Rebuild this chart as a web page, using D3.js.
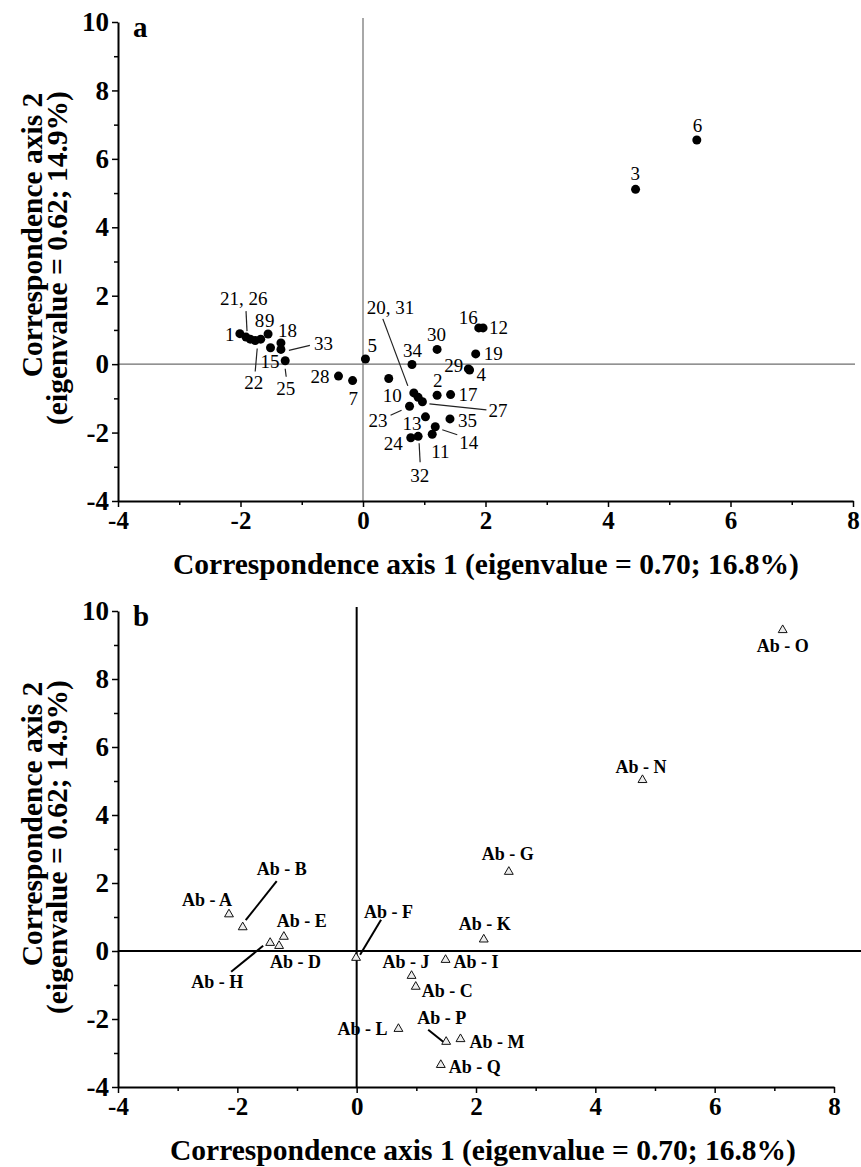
<!DOCTYPE html>
<html>
<head>
<meta charset="utf-8">
<script src="https://cdn.jsdelivr.net/npm/d3@7"></script>
<style>
  html, body { margin: 0; padding: 0; background: #fff; }
  svg { display: block; font-family: "Liberation Serif", "Times New Roman", serif; }
</style>
</head>
<body>
<svg id="chart" width="861" height="1167"></svg>
<script>
// ---- Panel a: sites on the first two correspondence axes ----
const siteIds = [1,2,3,4,5,6,7,8,9,10,11,12,13,14,15,16,17,18,19,20,21,22,23,24,25,26,27,28,29,30,31,32,33,34,35];
const siteAxis1 = [-2.01, 1.21, 4.45, 1.74, 0.04, 5.45, -0.17, -1.67, -1.55, 0.42,
                   1.13, 1.96, 1.02, 1.18, -1.51, 1.89, 1.43, -1.34, 1.84, 0.83,
                   -1.91, -1.76, 0.76, 0.78, -1.27, -1.84, 0.97, -0.40, 1.72, 1.21,
                   0.90, 0.90, -1.34, 0.80, 1.42];
const siteAxis2 = [0.89, -0.91, 5.11, -0.17, 0.15, 6.55, -0.48, 0.73, 0.88, -0.42,
                   -2.05, 1.06, -1.54, -1.83, 0.48, 1.06, -0.89, 0.62, 0.30, -0.84,
                   0.79, 0.69, -1.23, -2.15, 0.10, 0.73, -1.10, -0.35, -0.14, 0.43,
                   -0.97, -2.11, 0.43, -0.01, -1.60];

// ---- Panel b: antibody groups on the same axes ----
const abNames = ["Ab - A","Ab - B","Ab - C","Ab - D","Ab - E","Ab - F","Ab - G","Ab - H","Ab - I",
                 "Ab - J","Ab - K","Ab - L","Ab - M","Ab - N","Ab - O","Ab - P","Ab - Q"];
const abAxis1 = [-2.14, -1.91, 0.99, -1.30, -1.22, -0.01, 2.55, -1.45, 1.49,
                 0.92, 2.13, 0.70, 1.74, 4.79, 7.14, 1.50, 1.41];
const abAxis2 = [1.08, 0.70, -1.05, 0.15, 0.42, -0.20, 2.33, 0.24, -0.26,
                 -0.73, 0.34, -2.29, -2.59, 5.03, 9.44, -2.67, -3.35];

// ---- Axis ticks and titles ----
const xTickValues = [-4, -2, 0, 2, 4, 6, 8];
const yTickValues = [-4, -2, 0, 2, 4, 6, 8, 10];
const xMinorTicks = [-3, -1, 1, 3, 5, 7];
const yMinorTicks = [-3, -1, 1, 3, 5, 7, 9];
const xTitle = "Correspondence axis 1 (eigenvalue = 0.70; 16.8%)";
const yTitleLines = ["Correspondence axis 2", "(eigenvalue = 0.62; 14.9%)"];

// ---- Label placement (pixel offsets from each marker) ----
const siteLabelLayout = {
  1:{dx:-15,dy:7}, 2:{dx:-4,dy:-8}, 3:{dx:-5,dy:-9}, 4:{dx:7,dy:11}, 5:{dx:2,dy:-7},
  6:{dx:-4,dy:-8}, 7:{dx:-4,dy:24}, 8:{dx:-6,dy:-12}, 9:{dx:-3,dy:-7}, 10:{dx:-6,dy:23},
  11:{dx:-1,dy:24}, 12:{dx:6,dy:6}, 13:{dx:-23,dy:13},
  14:{dx:24,dy:22,leader:[7,3,22,8]},
  15:{dx:-10,dy:20}, 16:{dx:-20,dy:-4}, 17:{dx:8,dy:6}, 18:{dx:-3,dy:-6}, 19:{dx:8,dy:6},
  20:{text:"20, 31",dx:-47,dy:-79,leader:[-31,-74,-6,-7]},
  21:{text:"21, 26",dx:-26,dy:-32,leader:[0,-26,1,-6]},
  22:{dx:-11,dy:48,leader:[0,31,2,8]},
  23:{dx:-41,dy:21,leader:[-19,9,-8,4]},
  24:{dx:-27,dy:12},
  25:{dx:-9,dy:34,leader:[0,8,1,16]},
  27:{dx:66,dy:15,leader:[7,2,64,8]},
  28:{dx:-28,dy:7}, 29:{dx:-24,dy:3}, 30:{dx:-10,dy:-8},
  32:{dx:-8,dy:46,leader:[1,7,2,26]},
  33:{dx:33,dy:1,leader:[8,1,29,-4]},
  34:{dx:-9,dy:-7}, 35:{dx:8,dy:8}
};
const abLabelLayout = {
  "Ab - A":{dx:-47,dy:-8},
  "Ab - B":{dx:14,dy:-52,leader:[34,-46,3,-7]},
  "Ab - C":{dx:6,dy:10},
  "Ab - D":{dx:-9,dy:22},
  "Ab - E":{dx:-7,dy:-10},
  "Ab - F":{dx:8,dy:-40,leader:[25,-38,4,-3]},
  "Ab - G":{dx:-27,dy:-12},
  "Ab - H":{dx:-79,dy:45,leader:[-39,29,-7,3]},
  "Ab - I":{dx:8,dy:8},
  "Ab - J":{dx:-29,dy:-8},
  "Ab - K":{dx:-25,dy:-9},
  "Ab - L":{dx:-61,dy:6},
  "Ab - M":{dx:9,dy:9},
  "Ab - N":{dx:-27,dy:-7},
  "Ab - O":{dx:-26,dy:22},
  "Ab - P":{dx:-29,dy:-18,leader:[-18,-12,-3,0]},
  "Ab - Q":{dx:8,dy:8}
};

const svg = d3.select("#chart");

// Draws the axes frame (left + bottom), zero reference lines and titles of one panel.
function drawFrame(g, x, y, opts) {
  const [x0, x1] = x.range();
  const [yb, yt] = y.range();

  // zero reference lines
  g.append("line")
    .attr("x1", x(0)).attr("x2", x(0))
    .attr("y1", yt - 4).attr("y2", yb)
    .attr("stroke", opts.zeroColor).attr("stroke-width", opts.zeroWidth);
  g.append("line")
    .attr("x1", x0).attr("x2", opts.zeroLineEnd)
    .attr("y1", y(0)).attr("y2", y(0))
    .attr("stroke", opts.zeroColor).attr("stroke-width", opts.zeroWidth);

  // minor ticks
  g.append("g").attr("transform", `translate(0,${yb})`)
    .call(d3.axisBottom(x).tickValues(xMinorTicks).tickSize(4).tickSizeOuter(0).tickFormat(""))
    .call(a => a.select(".domain").remove())
    .call(a => a.selectAll("line").attr("stroke", "#000").attr("stroke-width", 1.5));
  g.append("g").attr("transform", `translate(${x0},0)`)
    .call(d3.axisLeft(y).tickValues(yMinorTicks).tickSize(4).tickSizeOuter(0).tickFormat(""))
    .call(a => a.select(".domain").remove())
    .call(a => a.selectAll("line").attr("stroke", "#000").attr("stroke-width", 1.5));

  // major ticks, labels and axis lines
  const xa = g.append("g").attr("transform", `translate(0,${yb})`)
    .call(d3.axisBottom(x).tickValues(xTickValues).tickSize(6).tickSizeOuter(0).tickPadding(4)
      .tickFormat(d3.format("d")));
  xa.select(".domain").attr("stroke", "#000").attr("stroke-width", 2);
  xa.selectAll(".tick line").attr("stroke", "#000").attr("stroke-width", 1.5);
  xa.selectAll(".tick text")
    .attr("font-family", "Liberation Serif").attr("font-weight", "bold")
    .attr("font-size", 25).attr("fill", "#000").attr("dy", "0.72em")
    .text(d => d < 0 ? "-" + Math.abs(d) : d);

  const ya = g.append("g").attr("transform", `translate(${x0},0)`)
    .call(d3.axisLeft(y).tickValues(yTickValues).tickSize(6).tickSizeOuter(0).tickPadding(3)
      .tickFormat(d3.format("d")));
  ya.select(".domain").attr("stroke", "#000").attr("stroke-width", 2);
  ya.selectAll(".tick line").attr("stroke", "#000").attr("stroke-width", 1.5);
  ya.selectAll(".tick text")
    .attr("font-family", "Liberation Serif").attr("font-weight", "bold")
    .attr("font-size", 27).attr("fill", "#000")
    .text(d => d < 0 ? "-" + Math.abs(d) : d);

  // panel letter
  g.append("text")
    .attr("x", 133).attr("y", yt + 15)
    .attr("font-weight", "bold").attr("font-size", 29)
    .text(opts.letter);

  // axis titles
  g.append("text")
    .attr("x", opts.xTitleX).attr("y", yb + 73)
    .attr("text-anchor", "middle")
    .attr("font-weight", "bold").attr("font-size", 29.5)
    .text(xTitle);

  const ty = [yt + 213, yt + 236];
  const tx = [42, 67];
  yTitleLines.forEach((t, i) => {
    g.append("text")
      .attr("transform", `translate(${tx[i]},${ty[i]}) rotate(-90)`)
      .attr("text-anchor", "middle")
      .attr("font-weight", "bold").attr("font-size", 29.5)
      .text(t);
  });
}

// Draws text labels and their leader lines for a set of markers.
function drawLabels(g, pts, layout, style) {
  pts.forEach(p => {
    const L = layout[p.key];
    if (!L) return;
    if (L.leader) {
      g.append("line")
        .attr("x1", p.px + L.leader[0]).attr("y1", p.py + L.leader[1])
        .attr("x2", p.px + L.leader[2]).attr("y2", p.py + L.leader[3])
        .attr("stroke", style.leaderColor).attr("stroke-width", style.leaderWidth);
    }
    g.append("text")
      .attr("x", p.px + L.dx).attr("y", p.py + L.dy)
      .attr("font-size", style.fontSize)
      .attr("font-weight", style.fontWeight)
      .attr("fill", "#000")
      .text(L.text || p.label);
  });
}

// ---------- Panel a ----------
{
  const x = d3.scaleLinear().domain([-4, 8]).range([118, 853]);
  const y = d3.scaleLinear().domain([-4, 10]).range([501, 22]);
  const g = svg.append("g");
  drawFrame(g, x, y, { zeroColor: "#6e6e6e", zeroWidth: 1.2, zeroLineEnd: 855, letter: "a", xTitleX: 486 });

  const pts = siteIds.map((id, i) => ({
    key: id, label: String(id), px: x(siteAxis1[i]), py: y(siteAxis2[i])
  }));
  drawLabels(g, pts, siteLabelLayout, { fontSize: 19, fontWeight: "normal", leaderColor: "#222", leaderWidth: 1.2 });

  g.append("g").selectAll("circle").data(pts).join("circle")
    .attr("cx", d => d.px).attr("cy", d => d.py).attr("r", 4.5)
    .attr("fill", "#000");
}

// ---------- Panel b ----------
{
  const x = d3.scaleLinear().domain([-4, 8]).range([118, 834]);
  const y = d3.scaleLinear().domain([-4, 10]).range([1087, 611]);
  const g = svg.append("g");
  drawFrame(g, x, y, { zeroColor: "#000", zeroWidth: 2, zeroLineEnd: 861, letter: "b", xTitleX: 483 });

  const pts = abNames.map((n, i) => ({
    key: n, label: n, px: x(abAxis1[i]), py: y(abAxis2[i])
  }));
  drawLabels(g, pts, abLabelLayout, { fontSize: 18, fontWeight: "bold", leaderColor: "#000", leaderWidth: 2 });

  const tri = d3.symbol().type(d3.symbolTriangle).size(34);
  g.append("g").selectAll("path").data(pts).join("path")
    .attr("d", tri)
    .attr("transform", d => `translate(${d.px},${d.py})`)
    .attr("fill", "#ededed").attr("stroke", "#111").attr("stroke-width", 1);
}
</script>
</body>
</html>
